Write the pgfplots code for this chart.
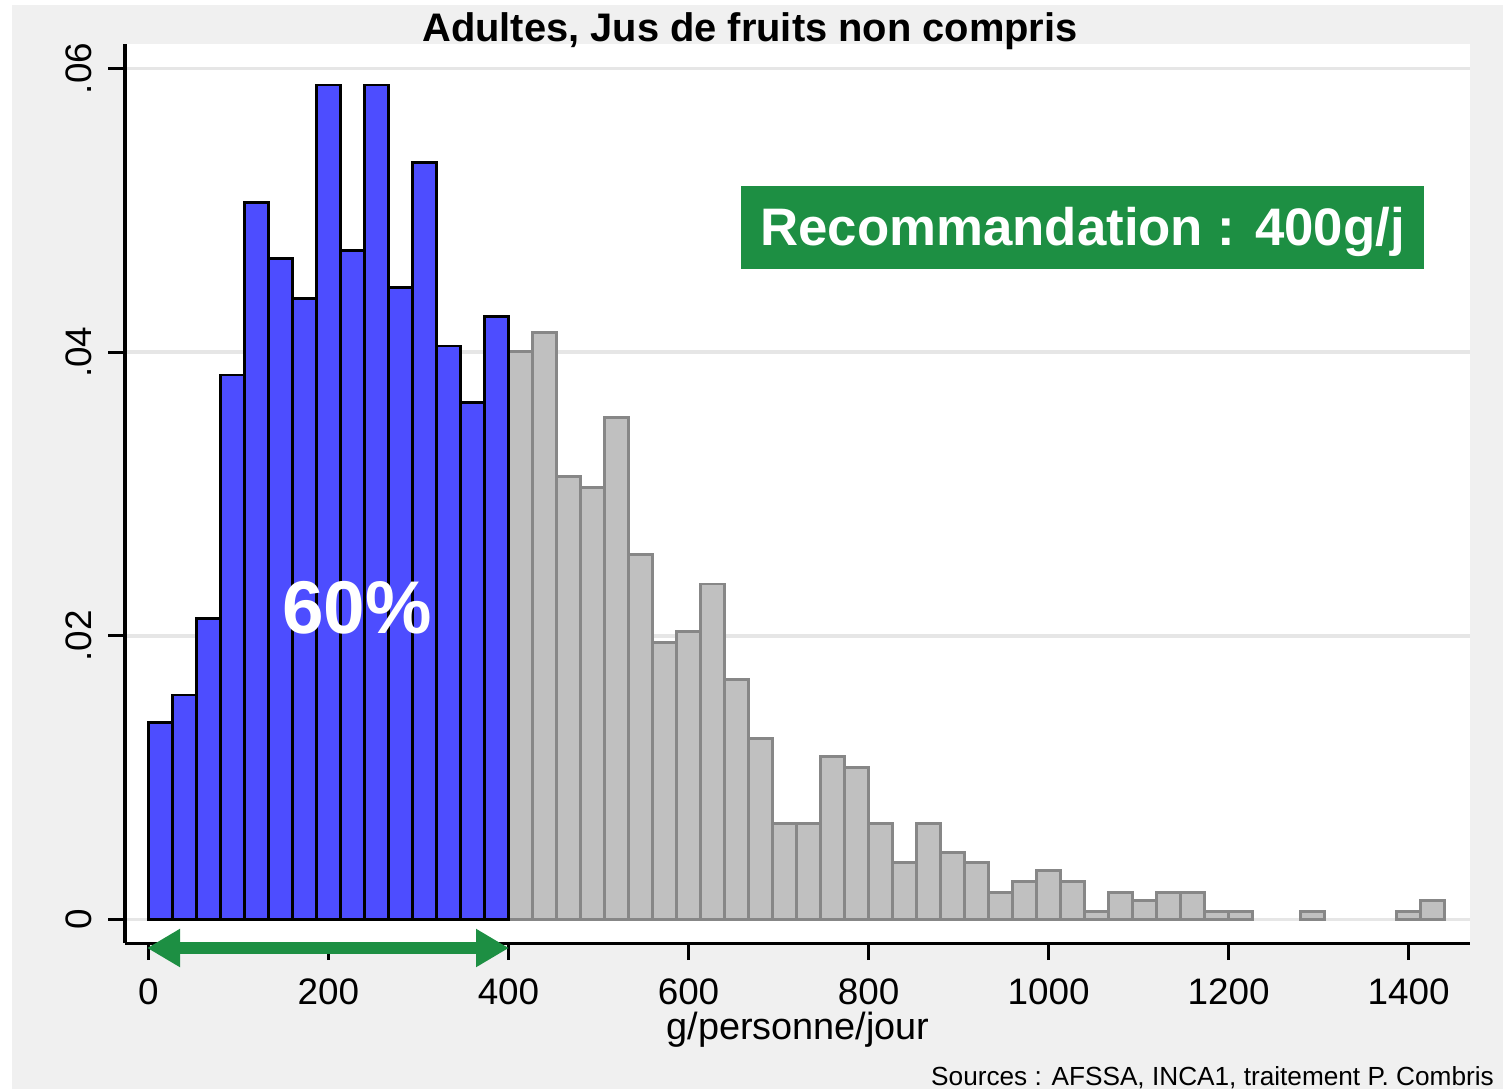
\documentclass[border=0pt]{standalone}
\usepackage{pgfplots}
\pgfplotsset{compat=1.18}
\usepackage{fontspec}
\setmainfont{Liberation Sans}
\usetikzlibrary{arrows.meta}
\definecolor{bgc}{HTML}{F0F0F0}
\definecolor{barblue}{HTML}{4D4DFF}
\definecolor{bargray}{HTML}{C0C0C0}
\definecolor{edgegray}{HTML}{878787}
\definecolor{recgreen}{HTML}{1D8F43}
\definecolor{gridc}{HTML}{E6E6E6}
\begin{document}
\begin{tikzpicture}
\path[use as bounding box] (0,0) rectangle (1503bp,-1089bp);
\clip (0,0) rectangle (1503bp,-1089bp);
\fill[white] (0,0) rectangle (1503bp,-1089bp);
\fill[bgc] (12bp,-5bp) rectangle (1503bp,-1089bp);
\begin{axis}[
  at={(125bp,-943bp)}, anchor=south west,
  scale only axis, width=1345bp, height=899bp,
  xmin=-26.1, xmax=1468.3, ymin=-0.001657, ymax=0.06173,
  axis x line*=bottom, axis y line*=left,
  axis line style={line width=3bp, black, -},
  axis background/.style={fill=white},
  xtick={0,200,400,600,800,1000,1200,1400},
  xticklabels={0,200,400,600,800,1000,1200,1400},
  ytick={0,0.02,0.04,0.06},
  yticklabels={0,.02,.04,.06},
  scaled y ticks=false,
  tick align=outside, major tick length=17bp,
  tick style={line width=3bp, black},
  ymajorgrids, grid style={line width=3.5bp, gridc},
  ticklabel style={font=\fontsize{37}{40}\selectfont},
  yticklabel style={rotate=90, anchor=south, inner xsep=0pt, inner ysep=16bp},
  xticklabel style={anchor=north, inner xsep=0pt, inner ysep=19bp},
  clip=false,
]
\addplot[ybar, bar width=26.667, bar shift=0pt, fill=bargray, draw=edgegray, line width=2.8bp] coordinates {
(413.33,0.04003) (440,0.04137) (466.67,0.03122) (493.33,0.03045) (520,0.03538)
(546.67,0.02575) (573.33,0.01954) (600,0.02029) (626.67,0.02365) (653.33,0.01693)
(680,0.01278) (706.67,0.00678) (733.33,0.00678) (760,0.01148) (786.67,0.01073)
(813.33,0.00678) (840,0.00400) (866.67,0.00678) (893.33,0.00471) (920,0.00400)
(946.67,0.00189) (973.33,0.00267) (1000,0.00344) (1026.67,0.00267) (1053.33,0.00055)
(1080,0.00189) (1106.67,0.00133) (1133.33,0.00189) (1160,0.00189) (1186.67,0.00055)
(1213.33,0.00055) (1293.33,0.00055) (1400,0.00055) (1426.67,0.00133)
};
\addplot[ybar, bar width=26.667, bar shift=0pt, fill=barblue, draw=black, line width=2.8bp] coordinates {
(13.33,0.01390) (40,0.01583) (66.67,0.02124) (93.33,0.03839) (120,0.05057)
(146.67,0.04662) (173.33,0.04380) (200,0.05884) (226.67,0.04716) (253.33,0.05884)
(280,0.04455) (306.67,0.05339) (333.33,0.04044) (360,0.03647) (386.67,0.04250)
};
\end{axis}
\node[anchor=base, font=\bfseries\fontsize{40}{42}\selectfont, inner sep=0pt] at (750bp,-41bp) {Adultes, Jus de fruits non compris};
\node[anchor=base, font=\fontsize{38}{40}\selectfont, inner sep=0pt] at (798bp,-1039bp) {g/personne/jour};
\node[anchor=base west, font=\fontsize{26.3}{29}\selectfont, inner sep=0pt] at (931bp,-1085bp) {Sources : AFSSA, INCA1, traitement P. Combris};
\fill[recgreen] (741bp,-186bp) rectangle (1424bp,-269bp);
\node[anchor=base, text=white, font=\bfseries\fontsize{53}{56}\selectfont, inner sep=0pt] at (1082.5bp,-245bp) {Recommandation : 400g/j};
\node[anchor=base, text=white, font=\bfseries\fontsize{75}{80}\selectfont, inner sep=0pt] at (357bp,-633bp) {60\%};
\draw[recgreen, line width=12bp, {Triangle[length=33bp,width=36bp]}-{Triangle[length=33bp,width=36bp]}] (147bp,-948bp) -- (509bp,-948bp);
\end{tikzpicture}
\end{document}
